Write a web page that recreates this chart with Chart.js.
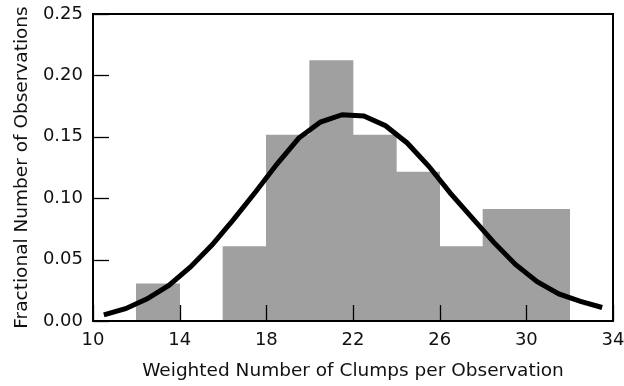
<!DOCTYPE html>
<html>
<head>
<meta charset="utf-8">
<script src="https://cdn.jsdelivr.net/npm/chart.js@4"></script>
<style>
  html, body { margin: 0; padding: 0; background: #fff; }
  #wrap { width: 624px; height: 386px; }
</style>
</head>
<body>
<div id="wrap"><canvas id="histChart" width="624" height="386"></canvas></div>
<script>
// histogram bins (centres, width 2) and their fractions
const binCenters = [13, 15, 17, 19, 21, 23, 25, 27, 29, 31];
const fractions = [0.0303, 0, 0.0606, 0.1515, 0.2121, 0.1515, 0.1212, 0.0606, 0.0909, 0.0909];

// fitted curve
const curveX = [10.5, 11.5, 12.5, 13.5, 14.5, 15.5, 16.5, 17.5, 18.5, 19.5, 20.5, 21.5,
                22.5, 23.5, 24.5, 25.5, 26.5, 27.5, 28.5, 29.5, 30.5, 31.5, 32.5, 33.5];
const curveY = [0.005, 0.010, 0.018, 0.029, 0.044, 0.062, 0.083, 0.105, 0.128, 0.149, 0.162, 0.168,
                0.167, 0.159, 0.145, 0.126, 0.104, 0.084, 0.064, 0.046, 0.032, 0.022, 0.016, 0.011];

const xTitle = 'Weighted Number of Clumps per Observation';
const yTitle = 'Fractional Number of Observations';

const fontFamily = '"DejaVu Sans", sans-serif';

// frame round the plot and tick marks pointing inward
const frameAndTicks = {
    id: 'frameAndTicks',
    afterDatasetsDraw(chart) {
        const c = chart.ctx;
        const a = chart.chartArea;
        const xs = chart.scales.x, ys = chart.scales.y;
        c.save();
        c.strokeStyle = '#000';
        c.lineWidth = 1.3;
        xs.ticks.forEach(t => {
            const px = Math.round(xs.getPixelForValue(t.value)) + 0.5;
            c.beginPath();
            c.moveTo(px, a.bottom);
            c.lineTo(px, a.bottom - 16);
            c.stroke();
        });
        ys.ticks.forEach(t => {
            const py = Math.round(ys.getPixelForValue(t.value)) + 0.5;
            c.beginPath();
            c.moveTo(a.left, py);
            c.lineTo(a.left + 16, py);
            c.stroke();
        });
        c.lineWidth = 2;
        c.strokeRect(a.left, a.top, a.right - a.left, a.bottom - a.top);
        c.restore();
    }
};

const ctx = document.getElementById('histChart').getContext('2d');
const histChart = new Chart(ctx, {
    type: 'bar',
    data: {
        datasets: [
            {
                type: 'line',
                data: curveX.map((x, i) => ({ x: x, y: curveY[i] })),
                borderColor: '#000',
                borderWidth: 5,
                pointRadius: 0,
                tension: 0,
                fill: false,
                order: 0
            },
            {
                type: 'bar',
                data: binCenters.map((x, i) => ({ x: x, y: fractions[i] })),
                backgroundColor: '#a0a0a0',
                borderWidth: 0,
                barPercentage: 1,
                categoryPercentage: 1,
                order: 1
            }
        ]
    },
    options: {
        responsive: false,
        animation: false,
        layout: { padding: { top: 14, right: 11, left: 0, bottom: 0 } },
        plugins: {
            legend: { display: false },
            tooltip: { enabled: false }
        },
        scales: {
            x: {
                type: 'linear',
                min: 10,
                max: 34,
                offset: false,
                grid: { display: false, drawTicks: false },
                border: { display: false },
                ticks: {
                    stepSize: 4,
                    padding: 9,
                    maxRotation: 0,
                    color: '#111',
                    font: { family: fontFamily, size: 18 }
                },
                title: {
                    display: true,
                    text: xTitle,
                    color: '#111',
                    font: { family: fontFamily, size: 18.5 },
                    padding: { top: 0, bottom: 4 }
                },
                afterFit(scale) {
                    scale.height = 65;
                    scale.paddingLeft = 0;
                    scale.paddingRight = 0;
                }
            },
            y: {
                min: 0,
                max: 0.25,
                grid: { display: false, drawTicks: false },
                border: { display: false },
                ticks: {
                    stepSize: 0.05,
                    padding: 10,
                    color: '#111',
                    font: { family: fontFamily, size: 18 },
                    callback: v => v.toFixed(2)
                },
                title: {
                    display: true,
                    text: yTitle,
                    color: '#111',
                    font: { family: fontFamily, size: 18.5 },
                    padding: { top: 11, bottom: 0 }
                },
                afterFit(scale) {
                    scale.width = 93;
                    scale.paddingTop = 0;
                    scale.paddingBottom = 0;
                }
            }
        }
    },
    plugins: [frameAndTicks]
});
</script>
</body>
</html>
